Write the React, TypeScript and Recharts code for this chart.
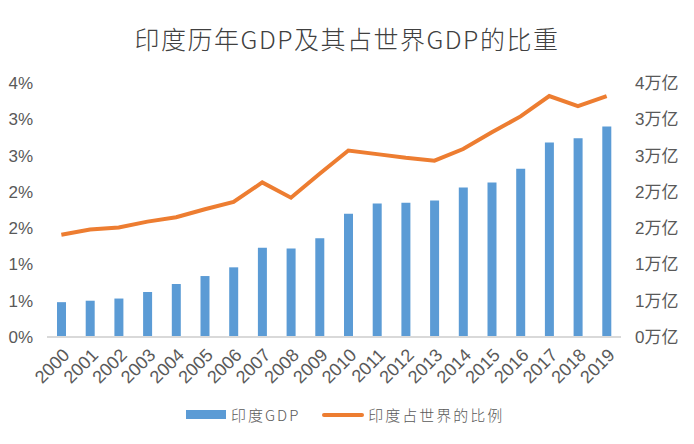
import React from 'react';
import { ComposedChart, Bar, Line, XAxis, YAxis } from 'recharts';

const years = ['2000', '2001', '2002', '2003', '2004', '2005', '2006', '2007', '2008', '2009',
  '2010', '2011', '2012', '2013', '2014', '2015', '2016', '2017', '2018', '2019'];
// 印度GDP（万亿美元）
const gdp = [0.48, 0.50, 0.53, 0.62, 0.73, 0.84, 0.96, 1.23, 1.22, 1.36,
  1.70, 1.84, 1.85, 1.88, 2.06, 2.13, 2.32, 2.68, 2.74, 2.90];
// 印度占世界的比例（%）
const share = [1.41, 1.48, 1.51, 1.59, 1.65, 1.76, 1.86, 2.13, 1.92, 2.25,
  2.57, 2.52, 2.47, 2.43, 2.59, 2.82, 3.04, 3.32, 3.18, 3.32];
const ticks = [0, 0.5, 1, 1.5, 2, 2.5, 3, 3.5];

const data = years.map((y, i) => ({ year: y, gdp: gdp[i], share: share[i] }));

const FONT = '"Liberation Sans Narrow", "Liberation Sans", "Noto Sans CJK SC", sans-serif';
const CJK = '"Noto Sans CJK SC", sans-serif';
const BLUE = '#5b9bd5';
const ORANGE = '#ed7d31';
const TICK = '#595959';

const XTick = (props: any) => {
  const { x, y, payload } = props;
  const tx = x + 5;
  const ty = y + 7;
  return (
    <text x={tx} y={ty} transform={`rotate(-45 ${tx} ${ty})`} textAnchor="end"
      dominantBaseline="central" fill={TICK} fontSize={18} fontFamily={FONT}>
      {payload.value}
    </text>
  );
};

export default function App() {
  return (
    <div style={{ position: 'absolute', left: 0, top: 0, width: 694, height: 444, background: '#fff' }}>
      <div style={{ position: 'absolute', left: 0, top: 20, width: 694, textAlign: 'center',
        fontFamily: CJK, fontSize: 25, fontWeight: 300, color: '#404040', letterSpacing: 1.5, lineHeight: '36px' }}>
        印度历年GDP及其占世界GDP的比重
      </div>
      <ComposedChart width={694} height={444} data={data}
        margin={{ top: 83, right: 0, left: 0, bottom: 47 }}>
        <XAxis dataKey="year" height={60} axisLine={{ stroke: '#d9d9d9', strokeWidth: 2 }}
          tickLine={false} interval={0} tick={<XTick />} />
        <YAxis yAxisId="left" orientation="left" width={47} domain={[0, 3.5]} ticks={ticks}
          axisLine={false} tickLine={false} tickMargin={8}
          tick={{ fill: TICK, fontSize: 17, fontFamily: FONT }}
          tickFormatter={(v: number) => `${Math.round(v)}%`} />
        <YAxis yAxisId="right" orientation="right" width={73} domain={[0, 3.5]} ticks={ticks}
          axisLine={false} tickLine={false} tickMargin={8}
          tick={{ fill: TICK, fontSize: 17, fontFamily: FONT }}
          tickFormatter={(v: number) => `${Math.round(v)}万亿`} />
        <Bar yAxisId="right" dataKey="gdp" fill={BLUE} barSize={9} isAnimationActive={false} />
        <Line yAxisId="left" dataKey="share" type="linear" stroke={ORANGE} strokeWidth={4}
          dot={false} isAnimationActive={false} />
      </ComposedChart>
      <div style={{ position: 'absolute', top: 404, left: 186, display: 'flex', alignItems: 'center',
        fontFamily: CJK, fontSize: 15, fontWeight: 300, color: TICK, letterSpacing: 2 }}>
        <span style={{ display: 'inline-block', width: 40, height: 9, background: BLUE, marginRight: 5 }} />
        <span>印度GDP</span>
        <span style={{ display: 'inline-block', width: 42, height: 4, borderRadius: 2, background: ORANGE, marginLeft: 22, marginRight: 4 }} />
        <span>印度占世界的比例</span>
      </div>
    </div>
  );
}
